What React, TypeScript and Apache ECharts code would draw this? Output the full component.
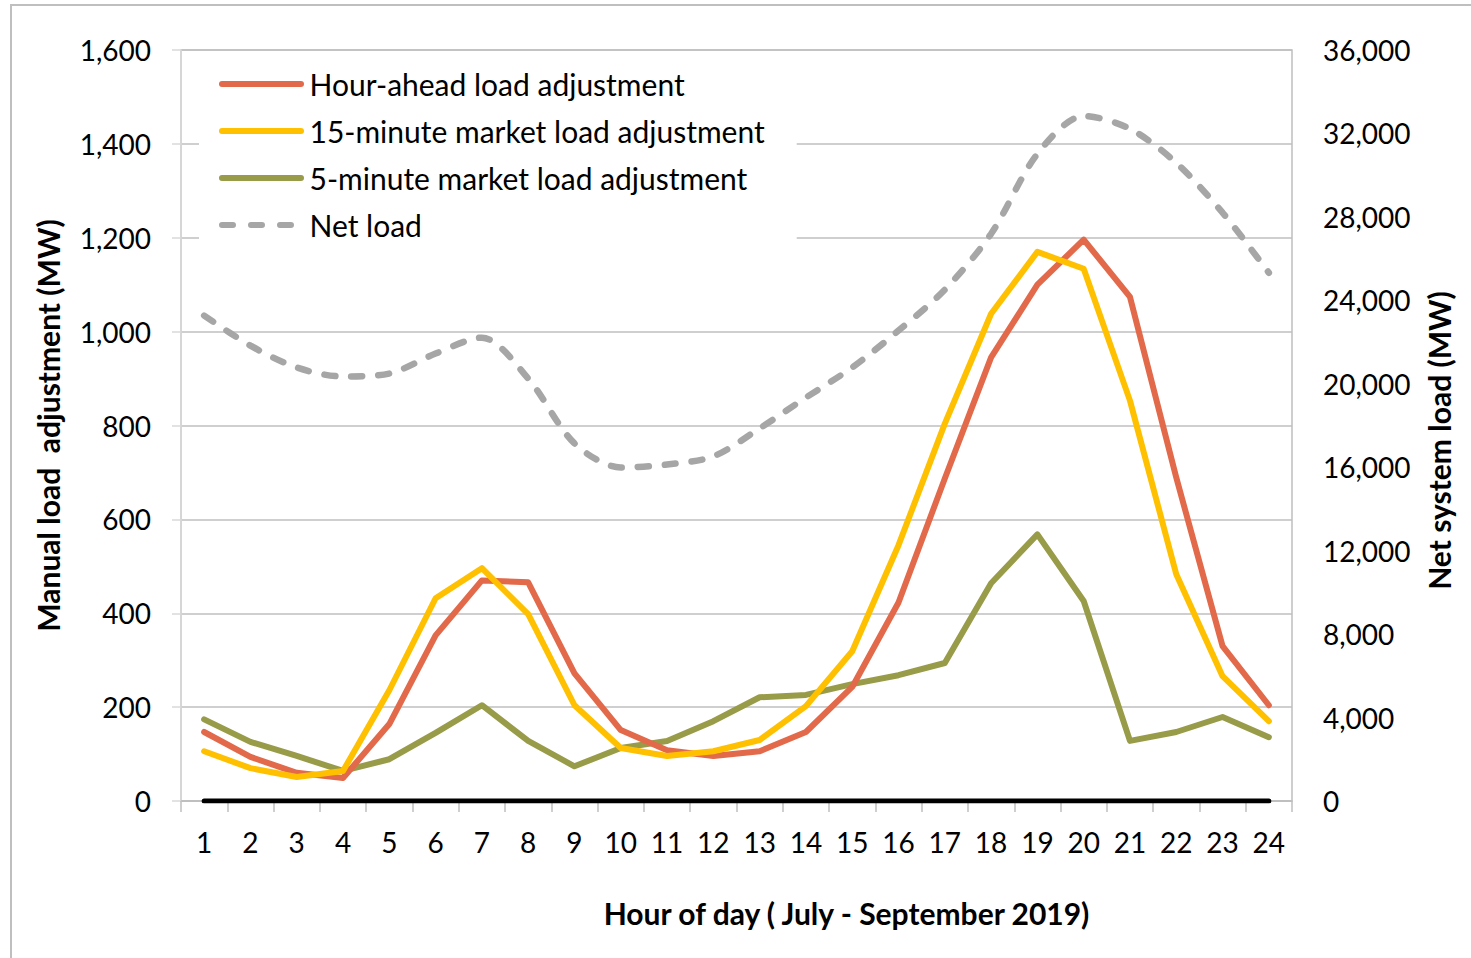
import React, { useEffect, useRef } from "react";
import * as echarts from "echarts";

const hours = ["1","2","3","4","5","6","7","8","9","10","11","12","13","14","15","16","17","18","19","20","21","22","23","24"];
const hourAhead = [147, 94, 60, 49, 164, 353, 470, 466, 272, 151, 108, 96, 106, 147, 243, 423, 687, 945, 1100, 1196, 1074, 689, 330, 204];
const fifteenMin = [106, 70, 51, 64, 236, 432, 496, 398, 204, 113, 96, 106, 130, 202, 319, 545, 804, 1038, 1170, 1134, 853, 483, 266, 170];
const fiveMin = [174, 126, 96, 64, 89, 145, 204, 128, 74, 113, 128, 170, 221, 226, 249, 268, 294, 464, 568, 426, 128, 147, 179, 136];
const netLoad = [23270, 21830, 20780, 20350, 20490, 21450, 22210, 20250, 17140, 15990, 16130, 16520, 17860, 19340, 20780, 22550, 24510, 27190, 31020, 32840, 32220, 30590, 28200, 25320];
const baseline = hours.map(() => 0);

const FONT = "Lato, 'Open Sans', sans-serif";
const SOLID_ICON = "path://M3,0H82A3,3 0 0 1 82,6H3A3,3 0 0 1 3,0Z";
const DASH_ICON =
  "path://M3,0H14A3,3 0 0 1 14,6H3A3,3 0 0 1 3,0Z M32,0H43A3,3 0 0 1 43,6H32A3,3 0 0 1 32,0Z M61,0H72A3,3 0 0 1 72,6H61A3,3 0 0 1 61,0Z M84.9,2.9H85V3.1H84.9Z";

export default function App() {
  const ref = useRef<HTMLDivElement>(null);
  useEffect(() => {
    if (!ref.current) return;
    const chart = echarts.init(ref.current, null, { renderer: "svg" });
    const lineCommon = { type: "line", symbol: "none", showSymbol: false };
    chart.setOption({
      animation: false,
      backgroundColor: "#ffffff",
      textStyle: { fontFamily: FONT, color: "#000" },
      graphic: [
        {
          type: "rect",
          shape: { x: 11, y: 5, width: 1480, height: 1000 },
          style: { fill: "none", stroke: "#BFBFBF", lineWidth: 2 },
          silent: true,
          z: -1,
        },
      ],
      grid: {
        left: 181,
        right: 179,
        top: 50,
        bottom: 157,
        show: true,
        borderColor: "#BFBFBF",
        borderWidth: 1.5,
        containLabel: false,
      },
      legend: {
        left: 199,
        top: 58,
        orient: "vertical",
        data: [
          { name: "Hour-ahead load adjustment", icon: SOLID_ICON },
          { name: "15-minute market load adjustment", icon: SOLID_ICON },
          { name: "5-minute market load adjustment", icon: SOLID_ICON },
          { name: "Net load", icon: DASH_ICON },
        ],
        backgroundColor: "#ffffff",
        padding: [11, 32, 12, 20],
        itemWidth: 86,
        itemHeight: 6,
        itemGap: 17,
        textStyle: { fontFamily: FONT, fontSize: 30, color: "#000", lineHeight: 30 },
      },
      xAxis: {
        type: "category",
        data: hours,
        boundaryGap: true,
        name: "Hour of day ( July - September 2019)",
        nameLocation: "middle",
        nameGap: 97,
        nameTextStyle: {
          fontFamily: FONT,
          fontSize: 30,
          fontWeight: "bold",
          color: "#000",
          padding: [0, 0, 0, 220],
        },
        axisLine: { lineStyle: { color: "#BFBFBF", width: 1.5 } },
        axisTick: { show: true, length: 11, lineStyle: { color: "#BFBFBF", width: 1.5 } },
        axisLabel: { fontFamily: FONT, fontSize: 28, color: "#000", margin: 27 },
        splitLine: { show: false },
      },
      yAxis: [
        {
          type: "value",
          min: 0,
          max: 1600,
          interval: 200,
          name: "Manual load  adjustment (MW)",
          nameLocation: "middle",
          nameRotate: 90,
          nameGap: 118,
          nameTextStyle: { fontFamily: FONT, fontSize: 30, fontWeight: "bold", color: "#000" },
          axisLine: { show: true, lineStyle: { color: "#D9D9D9", width: 1.5 } },
          axisTick: { show: true, length: 9, lineStyle: { color: "#D9D9D9", width: 1.5 } },
          axisLabel: {
            fontFamily: FONT,
            fontSize: 28,
            color: "#000",
            margin: 30,
            formatter: (v: number) => v.toLocaleString("en-US"),
          },
          splitLine: { show: true, lineStyle: { color: "#BFBFBF", width: 1.5 } },
        },
        {
          type: "value",
          min: 0,
          max: 36000,
          interval: 4000,
          position: "right",
          name: "Net system load (MW)",
          nameLocation: "middle",
          nameRotate: 90,
          nameGap: 132,
          nameTextStyle: {
            fontFamily: FONT,
            fontSize: 30,
            fontWeight: "bold",
            color: "#000",
            padding: [0, 30, 0, 0],
          },
          axisLine: { show: false },
          axisTick: { show: false },
          axisLabel: {
            fontFamily: FONT,
            fontSize: 28,
            color: "#000",
            margin: 31,
            formatter: (v: number) => v.toLocaleString("en-US"),
          },
          splitLine: { show: false },
        },
      ],
      series: [
        {
          ...lineCommon,
          name: "baseline",
          data: baseline,
          yAxisIndex: 0,
          lineStyle: { color: "#000000", width: 5, cap: "round" },
          itemStyle: { color: "#000000" },
          z: 1,
          silent: true,
        },
        {
          ...lineCommon,
          name: "Net load",
          data: netLoad,
          yAxisIndex: 1,
          smooth: 0.3,
          lineStyle: { color: "#A6A6A6", width: 6.5, type: [11, 16], cap: "round" },
          itemStyle: { color: "#A6A6A6" },
          z: 2,
        },
        {
          ...lineCommon,
          name: "5-minute market load adjustment",
          data: fiveMin,
          yAxisIndex: 0,
          lineStyle: { color: "#989B48", width: 6, cap: "round", join: "round" },
          itemStyle: { color: "#989B48" },
          z: 3,
        },
        {
          ...lineCommon,
          name: "Hour-ahead load adjustment",
          data: hourAhead,
          yAxisIndex: 0,
          lineStyle: { color: "#E2694A", width: 6, cap: "round", join: "round" },
          itemStyle: { color: "#E2694A" },
          z: 4,
        },
        {
          ...lineCommon,
          name: "15-minute market load adjustment",
          data: fifteenMin,
          yAxisIndex: 0,
          lineStyle: { color: "#FFC000", width: 6, cap: "round", join: "round" },
          itemStyle: { color: "#FFC000" },
          z: 5,
        },
      ],
    });
    return () => chart.dispose();
  }, []);
  return (
    <div
      ref={ref}
      style={{ position: "fixed", left: 0, top: 0, width: 1471, height: 958 }}
    />
  );
}
